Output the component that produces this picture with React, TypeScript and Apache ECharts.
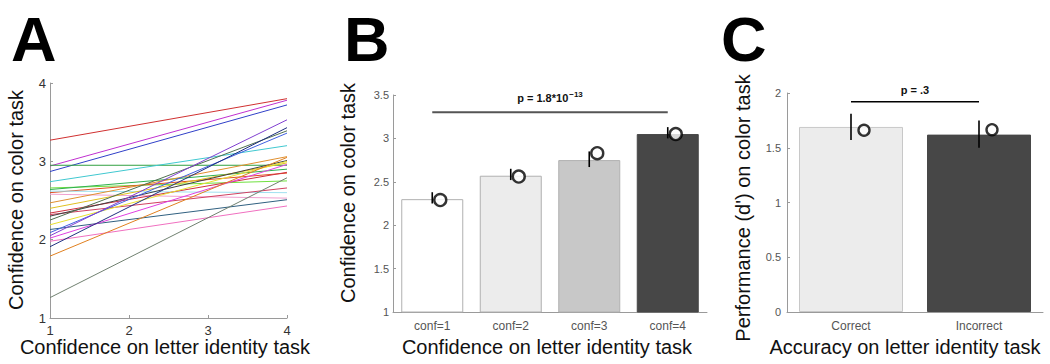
import React, { useEffect, useRef } from "react";
import * as echarts from "echarts";

// ---------- Panel A: individual subjects ----------
const aXTicks = [1, 2, 3, 4];
const aStart = [3.27, 2.94, 2.87, 2.95, 2.74, 2.66, 2.64, 2.60, 2.58, 2.62, 2.47, 2.40, 2.34, 2.32, 2.30, 2.25, 2.19, 2.13, 2.09, 2.05, 2.02, 1.98, 1.91, 1.79, 1.26];
const aEnd = [3.80, 3.78, 3.72, 2.95, 3.20, 2.75, 2.90, 2.85, 2.53, 2.60, 3.06, 2.98, 2.86, 2.66, 3.01, 3.39, 3.00, 2.51, 3.36, 3.53, 2.96, 2.43, 3.43, 3.05, 2.79];
const aColors = ["#d03030", "#c030d0", "#3040c8", "#30a040", "#40c8d0", "#70e040", "#30b050", "#e05020", "#f0a0d0", "#a0e0f0", "#e09030", "#e0c020", "#d03040", "#d04060", "#404040", "#507050", "#e8e030", "#306080", "#4060e0", "#8040d0", "#e040e0", "#f070c0", "#203080", "#e08020", "#708070"];

// ---------- Panel B ----------
const bCategories = ["conf=1", "conf=2", "conf=3", "conf=4"];
const bMeans = [2.30, 2.57, 2.75, 3.05];
const bErrLow = [2.25, 2.52, 2.67, 3.00];
const bErrHigh = [2.38, 2.65, 2.85, 3.13];
const bCircles = [2.29, 2.56, 2.83, 3.05];
const bColors = ["#ffffff", "#ececec", "#c8c8c8", "#474747"];
const bSig = { from: 0, to: 3, y: 3.30, label: "p = 1.8*10", exp: "−13" };

// ---------- Panel C ----------
const cCategories = ["Correct", "Incorrect"];
const cMeans = [1.69, 1.62];
const cErrLow = [1.57, 1.50];
const cErrHigh = [1.81, 1.75];
const cCircles = [1.66, 1.665];
const cColors = ["#ececec", "#474747"];
const cSig = { from: 0, to: 1, y: 1.92, label: "p = .3", exp: "" };

const FONT = "'Liberation Sans', Arial, Helvetica, sans-serif";
const AXIS_GRAY = "#9a9a9a";
const TICK_COLOR = "#555";

function errorSeries(xi: number, yi: number, low: number[], high: number[]) {
  return {
    type: "custom",
    xAxisIndex: xi,
    yAxisIndex: yi,
    encode: { x: 0, y: [1, 2] },
    data: low.map((l, i) => [i, l, high[i]]),
    z: 5,
    renderItem: (params: any, api: any) => {
      const p1 = api.coord([api.value(0), api.value(1)]);
      const p2 = api.coord([api.value(0), api.value(2)]);
      return {
        type: "line",
        shape: { x1: p1[0], y1: p1[1], x2: p2[0], y2: p2[1] },
        style: { stroke: "#000", lineWidth: 1.6 },
      };
    },
  };
}

function sigSeries(xi: number, yi: number, sig: any, color: string, width: number) {
  return {
    type: "custom",
    xAxisIndex: xi,
    yAxisIndex: yi,
    encode: { x: [0, 1], y: 2 },
    data: [[sig.from, sig.to, sig.y]],
    z: 5,
    renderItem: (params: any, api: any) => {
      const a = api.coord([api.value(0), api.value(2)]);
      const b = api.coord([api.value(1), api.value(2)]);
      const text = sig.exp ? `{m|${sig.label}}{s|${sig.exp}}` : `{m|${sig.label}}`;
      return {
        type: "group",
        children: [
          {
            type: "line",
            shape: { x1: a[0], y1: a[1], x2: b[0], y2: b[1] },
            style: { stroke: color, lineWidth: width },
          },
          {
            type: "text",
            x: (a[0] + b[0]) / 2,
            y: a[1] - 6,
            style: {
              text,
              align: "center",
              verticalAlign: "bottom",
              rich: {
                m: { fontFamily: FONT, fontWeight: "bold", fontSize: 11, fill: "#111" },
                s: { fontFamily: FONT, fontWeight: "bold", fontSize: 8, fill: "#111", verticalAlign: "top", padding: [0, 0, 8, 1] },
              },
            },
          },
        ],
      };
    },
  };
}

export default function App() {
  const ref = useRef<HTMLDivElement>(null);
  useEffect(() => {
    if (!ref.current) return;
    const chart = echarts.init(ref.current, undefined, { renderer: "svg" });

    const axisCommon = {
      axisLine: { show: true, lineStyle: { color: AXIS_GRAY, width: 1 } },
      splitLine: { show: false },
      axisLabel: { color: TICK_COLOR, fontFamily: FONT, fontSize: 11 },
    };

    const lineSeries = aStart.map((s, i) => ({
      type: "line",
      xAxisIndex: 0,
      yAxisIndex: 0,
      data: [[1, s], [4, aEnd[i]]],
      showSymbol: false,
      symbol: "none",
      lineStyle: { color: aColors[i], width: 1 },
      silent: true,
    }));

    const letter = (t: string, x: number) => ({
      type: "text",
      x,
      y: 39,
      style: {
        text: t,
        fontFamily: FONT,
        fontWeight: "bold",
        fontSize: 63,
        fill: "#000",
        verticalAlign: "middle",
      },
    });
    const label = (t: string, x: number, y: number, rot = 0) => ({
      type: "text",
      x,
      y,
      rotation: rot,
      style: { text: t, fontFamily: FONT, fontSize: 20, fill: "#111", align: "center", verticalAlign: "middle" },
    });

    chart.setOption({
      animation: false,
      backgroundColor: "#fff",
      grid: [
        { left: 50, top: 83, width: 237, height: 235 },
        { left: 393, top: 95, width: 314, height: 217 },
        { left: 787, top: 93, width: 256, height: 219 },
      ],
      xAxis: [
        {
          ...axisCommon,
          gridIndex: 0,
          type: "value",
          min: aXTicks[0],
          max: aXTicks[aXTicks.length - 1],
          interval: 1,
          axisTick: { show: true, inside: true, length: 3, lineStyle: { color: AXIS_GRAY } },
          axisLabel: { ...axisCommon.axisLabel, fontSize: 13, margin: 6, color: "#333" },
        },
        {
          ...axisCommon,
          gridIndex: 1,
          type: "category",
          data: bCategories,
          axisTick: { show: false },
          axisLabel: { ...axisCommon.axisLabel, fontSize: 12, margin: 8 },
        },
        {
          ...axisCommon,
          gridIndex: 2,
          type: "category",
          data: cCategories,
          axisTick: { show: false },
          axisLabel: { ...axisCommon.axisLabel, fontSize: 12, margin: 8 },
        },
      ],
      yAxis: [
        {
          ...axisCommon,
          gridIndex: 0,
          type: "value",
          min: 1,
          max: 4,
          interval: 1,
          axisTick: { show: true, inside: true, length: 3, lineStyle: { color: AXIS_GRAY } },
          axisLabel: { ...axisCommon.axisLabel, fontSize: 13, margin: 4, color: "#333" },
        },
        {
          ...axisCommon,
          gridIndex: 1,
          type: "value",
          min: 1,
          max: 3.5,
          interval: 0.5,
          axisTick: { show: true, inside: true, length: 3, lineStyle: { color: AXIS_GRAY } },
          axisLabel: { ...axisCommon.axisLabel, margin: 4 },
        },
        {
          ...axisCommon,
          gridIndex: 2,
          type: "value",
          min: 0,
          max: 2,
          interval: 0.5,
          axisTick: { show: true, inside: true, length: 3, lineStyle: { color: AXIS_GRAY } },
          axisLabel: { ...axisCommon.axisLabel, margin: 6 },
        },
      ],
      series: [
        ...lineSeries,
        {
          type: "bar",
          xAxisIndex: 1,
          yAxisIndex: 1,
          barWidth: 62,
          data: bMeans.map((v, i) => ({
            value: v,
            itemStyle: { color: bColors[i], borderColor: i < 3 ? "#b0b0b0" : "#474747", borderWidth: 1 },
          })),
        },
        errorSeries(1, 1, bErrLow, bErrHigh),
        {
          type: "scatter",
          xAxisIndex: 1,
          yAxisIndex: 1,
          data: bCircles,
          symbol: "circle",
          symbolSize: 12,
          symbolOffset: [8, 0],
          itemStyle: { color: "#fff", borderColor: "#000", borderWidth: 2.4 },
          z: 6,
        },
        sigSeries(1, 1, bSig, "#555", 2),
        {
          type: "bar",
          xAxisIndex: 2,
          yAxisIndex: 2,
          barWidth: 104,
          data: cMeans.map((v, i) => ({
            value: v,
            itemStyle: { color: cColors[i], borderColor: i === 0 ? "#c8c8c8" : "#474747", borderWidth: 1 },
          })),
        },
        errorSeries(2, 2, cErrLow, cErrHigh),
        {
          type: "scatter",
          xAxisIndex: 2,
          yAxisIndex: 2,
          data: cCircles,
          symbol: "circle",
          symbolSize: 11,
          symbolOffset: [13, 0],
          itemStyle: { color: "#fff", borderColor: "#000", borderWidth: 2.4 },
          z: 6,
        },
        sigSeries(2, 2, cSig, "#000", 1.5),
      ],
      graphic: [
        letter("A", 11),
        letter("B", 344),
        letter("C", 721),
        label("Confidence on color task", 16, 200, Math.PI / 2),
        label("Confidence on letter identity task", 165, 347),
        label("Confidence on color task", 348, 193, Math.PI / 2),
        label("Confidence on letter identity task", 547, 347),
        label("Performance (d') on color task", 743, 208, Math.PI / 2),
        label("Accuracy on letter identity task", 905, 347),
      ],
    });
    return () => chart.dispose();
  }, []);

  return (
    <div
      ref={ref}
      style={{ position: "absolute", left: 0, top: 0, width: 1050, height: 364, background: "#fff" }}
    />
  );
}
